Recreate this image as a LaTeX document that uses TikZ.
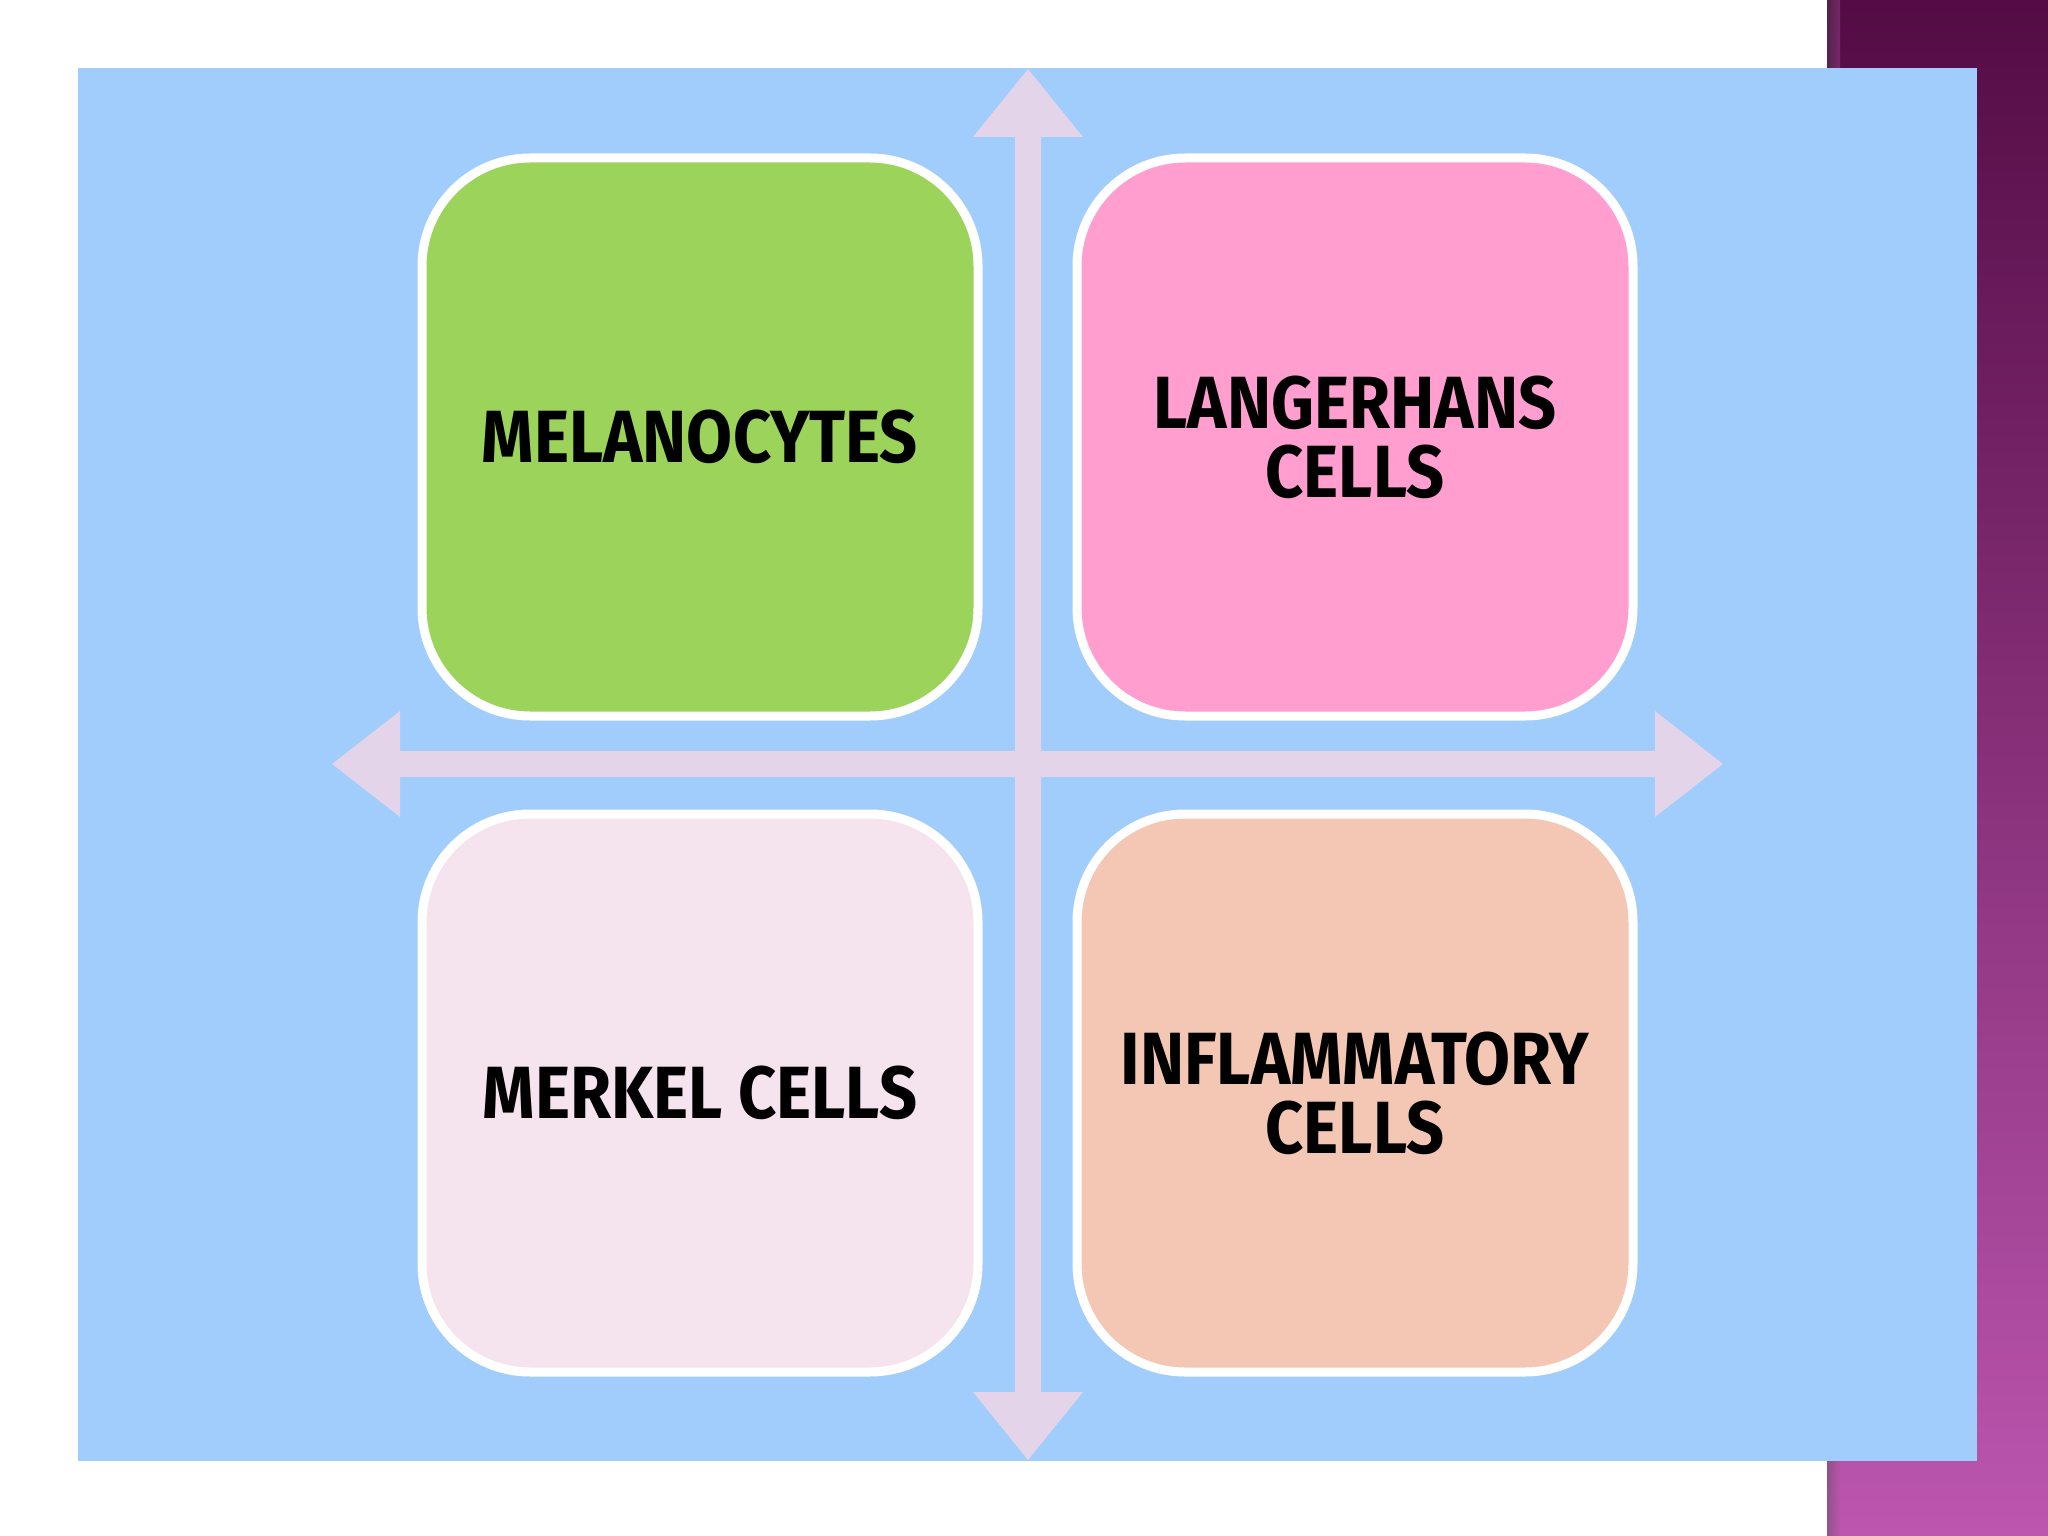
\documentclass[tikz,border=0pt]{standalone}
\usepackage{fontspec}
\newfontfamily\cellfont{Fira Sans}[FakeStretch=0.9]
\usepackage{tikz}
\usetikzlibrary{positioning}

\definecolor{skyblue}{HTML}{A0CDFB}
\definecolor{arrowlilac}{HTML}{E3D4E9}
\definecolor{cellgreen}{HTML}{9CD35B}
\definecolor{cellpink}{HTML}{FF9ECF}
\definecolor{cellblush}{HTML}{F5E4EE}
\definecolor{cellpeach}{HTML}{F3C7B4}
\definecolor{plumtop}{HTML}{540C45}
\definecolor{plumbot}{HTML}{BC56AF}

\begin{document}
\begin{tikzpicture}[
  x=1pt, y=-1pt,
  cell/.style={draw=white, line width=9pt, rounded corners=108pt,
               minimum width=556pt, minimum height=558pt,
               align=center, text=black,
               font=\cellfont\bfseries\fontsize{74}{69}\selectfont},
  bigarrow/.style={fill=arrowlilac}
]
  \useasboundingbox (0,0) rectangle (2048,1536);
  \fill[white] (0,0) rectangle (2048,1536);

  % side bar
  \shade[top color=plumtop, bottom color=plumbot] (1827,0) rectangle (2048,1536);
  \shade[left color=black!70, right color=plumbot, opacity=0.35] (1827,0) rectangle (1840,1536);

  % panel
  \fill[skyblue] (78,68) rectangle (1977,1461);

  % cross arrows
  \fill[bigarrow] (332,764) -- (400,711) -- (400,751) -- (1655,751) -- (1655,711)
    -- (1723,764) -- (1655,817) -- (1655,777) -- (400,777) -- (400,817) -- cycle;
  \fill[bigarrow] (1028,69) -- (1083,137) -- (1041,137) -- (1041,1392) -- (1083,1392)
    -- (1028,1460) -- (973,1392) -- (1015,1392) -- (1015,137) -- (973,137) -- cycle;

  \node[cell, fill=cellgreen] (mel) at (700,437)  {MELANOCYTES};
  \node[cell, fill=cellpink]  (lan) at (1355,437) {LANGERHANS\\CELLS};
  \node[cell, fill=cellblush] (mer) at (700,1093) {MERKEL CELLS};
  \node[cell, fill=cellpeach] (inf) at (1355,1093) {INFLAMMATORY\\CELLS};
\end{tikzpicture}
\end{document}
